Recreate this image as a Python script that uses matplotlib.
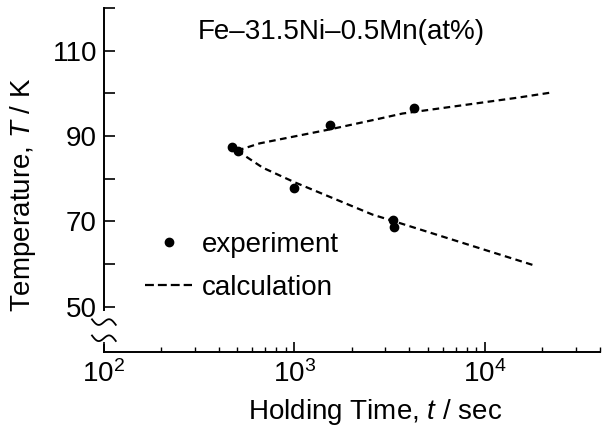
import numpy as np
import matplotlib
matplotlib.use('Agg')
import matplotlib.pyplot as plt
from matplotlib.lines import Line2D
from matplotlib.ticker import FixedLocator, LogLocator, NullFormatter

plt.rcParams['font.family'] = ['Liberation Sans', 'DejaVu Sans']
plt.rcParams['mathtext.fontset'] = 'custom'
plt.rcParams['mathtext.rm'] = 'Liberation Sans'
plt.rcParams['mathtext.it'] = 'Liberation Sans:italic'

# experiment points (holding time s, temperature K)
exp_time = [473, 503, 1000, 1540, 3280, 3340, 4250]
exp_temp = [87.4, 86.4, 77.9, 92.5, 70.4, 68.6, 96.5]

# calculated curves, upper and lower branch
calc_up_time = [500, 656, 1540, 2730, 3690, 14750, 22100]
calc_up_temp = [86.6, 88.3, 91.6, 94.0, 95.3, 99.0, 100.2]
calc_lo_time = [500, 682, 1000, 2570, 3300, 18400]
calc_lo_temp = [86.6, 82.6, 79.2, 71.6, 70.1, 59.6]

y_major = [50, 70, 90, 110, 120]
y_labels = ['50', '70', '90', '110', '']
y_minor = [60, 80, 100]

fs = 20

fig = plt.figure(figsize=(6.04, 4.29), dpi=100)
ax = fig.add_axes([0.172, 0.1795, 0.821, 0.8015])

ax.plot(calc_up_time, calc_up_temp, color='k', lw=1.6, dashes=(3, 2))
ax.plot(calc_lo_time, calc_lo_temp, color='k', lw=1.6, dashes=(3, 2))
ax.plot(exp_time, exp_temp, 'o', color='k', ms=6)

ax.set_xscale('log')
ax.set_xlim(100, 4.0e4)
ax.set_ylim(39.4, 120)

ax.yaxis.set_major_locator(FixedLocator(y_major))
ax.set_yticklabels(y_labels)
ax.yaxis.set_minor_locator(FixedLocator(y_minor))
ax.xaxis.set_minor_locator(LogLocator(base=10, subs=np.arange(2, 10)))
ax.xaxis.set_minor_formatter(NullFormatter())

ax.tick_params(axis='x', which='major', direction='in', length=7, width=1.2,
               labelsize=fs, pad=6)
ax.tick_params(axis='x', which='minor', direction='in', length=3.5, width=1.0)
ax.tick_params(axis='y', which='both', direction='in', length=8, width=1.2,
               labelsize=fs, pad=5)

for s in ['top', 'right']:
    ax.spines[s].set_visible(False)
ax.spines['bottom'].set_linewidth(1.4)
ax.spines['left'].set_linewidth(1.4)
ax.spines['left'].set_bounds(49.3, 120)

# broken y axis: short stub at bottom plus two squiggles
ax.axvline(100, ymin=0, ymax=0.02, color='k', lw=1.4, clip_on=False)
u = np.linspace(-1, 1, 40)
for y0 in [0.087, 0.04]:
    ax.plot(u * 0.024, y0 + 0.012 * np.sin(np.pi * u) - 0.008 * u,
            transform=ax.transAxes, color='k', lw=1.3, clip_on=False)

ax.set_xlabel('Holding Time, $\\mathit{t}$ / sec', fontsize=fs)
ax.xaxis.set_label_coords(0.546, -0.132)
ax.set_ylabel('Temperature, $\\mathit{T}$ / K', fontsize=fs)
ax.yaxis.set_label_coords(-0.132, 0.456)

ax.text(0.19, 0.93, 'Fe–31.5Ni–0.5Mn(at%)', transform=ax.transAxes,
        fontsize=fs, ha='left', va='center')

handles = [Line2D([], [], ls='none', marker='o', color='k', ms=6),
           Line2D([], [], color='k', lw=1.6, dashes=(4, 1.8))]
ax.legend(handles, ['experiment', 'calculation'], loc='upper left',
          bbox_to_anchor=(0.083, 0.35), frameon=False, fontsize=fs,
          handlelength=1.7, handletextpad=0.35, labelspacing=0.62,
          borderpad=0, borderaxespad=0)

fig.savefig('out.png', dpi=100)
